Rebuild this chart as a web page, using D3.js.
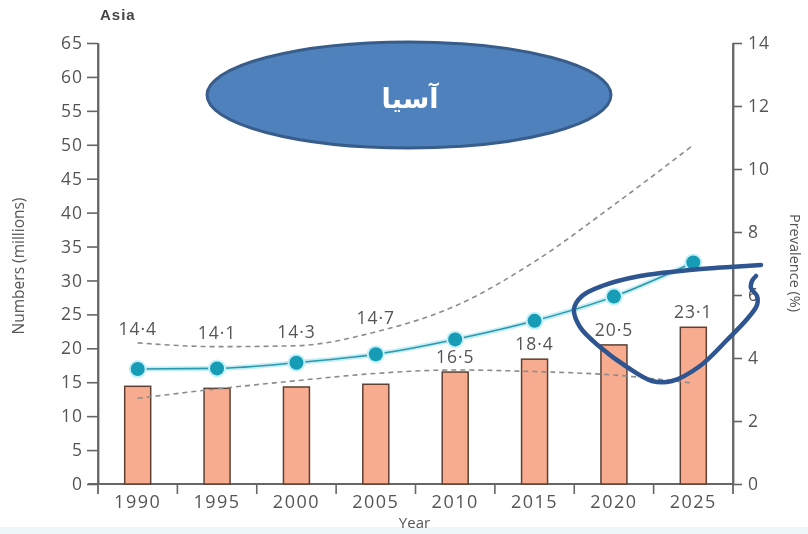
<!DOCTYPE html>
<html>
<head>
<meta charset="utf-8">
<script src="https://cdn.jsdelivr.net/npm/d3@7"></script>
<style>
  body { margin: 0; background: #fff; }
  svg { display: block; }
</style>
</head>
<body>
<svg id="chart" width="808" height="534"></svg>
<script>
// Diabetes in Asia: numbers (millions, bars) and prevalence (%, line with bounds)
const years = [1990, 1995, 2000, 2005, 2010, 2015, 2020, 2025];
const numbers = [14.4, 14.1, 14.3, 14.7, 16.5, 18.4, 20.5, 23.1];
const prevalence = [3.65, 3.67, 3.85, 4.12, 4.59, 5.18, 5.95, 7.03];
const prevalenceUpper = [4.48, 4.36, 4.39, 4.83, 5.65, 7.06, 8.86, 10.76];
const prevalenceLower = [2.72, 3.02, 3.28, 3.51, 3.62, 3.57, 3.46, 3.20];
const numberTicks = d3.range(0, 66, 5);
const prevalenceTicks = [0, 2, 4, 6, 8, 10, 12, 14];

const W = 808, H = 534;
const plot = { left: 98, right: 733, top: 43, bottom: 484 };
const TEXT = "#555";
const AXIS = "#666";
const FONT = "'Open Sans', sans-serif";

const svg = d3.select("#chart");

// soft look of the printed figure
const defs = svg.append("defs");
defs.append("filter").attr("id", "soft")
  .append("feGaussianBlur").attr("stdDeviation", 0.55);

svg.append("rect").attr("width", W).attr("height", H).attr("fill", "#fff");
svg.append("rect").attr("x", 0).attr("y", 527).attr("width", W).attr("height", H - 527)
  .attr("fill", "#eef6fa");

const x = d3.scaleBand().domain(years).range([plot.left, plot.right]).padding(0);
const yL = d3.scaleLinear().domain([0, 65]).range([plot.bottom, plot.top]);
const yR = d3.scaleLinear().domain([0, 14]).range([plot.bottom, plot.top]);
const cx = d => x(d) + x.bandwidth() / 2;
const barW = 26;

const g = svg.append("g").attr("filter", "url(#soft)");

// ---- axes ----
const fmtDot = v => d3.format(".1f")(v).replace(".", "·");

function styleAxis(sel) {
  sel.selectAll("path.domain").attr("stroke", AXIS).attr("stroke-width", 1.8);
  sel.selectAll(".tick line").attr("stroke", AXIS).attr("stroke-width", 1.6);
  sel.selectAll(".tick text").attr("fill", TEXT).attr("font-family", FONT)
    .attr("font-size", 17.5).attr("letter-spacing", 1);
}

const leftAxis = g.append("g").attr("transform", `translate(${plot.left},0)`)
  .call(d3.axisLeft(yL).tickValues(numberTicks).tickSize(11).tickSizeOuter(0).tickPadding(4));
styleAxis(leftAxis);

const rightAxis = g.append("g").attr("transform", `translate(${plot.right},0)`)
  .call(d3.axisRight(yR).tickValues(prevalenceTicks).tickSize(9).tickSizeOuter(0).tickPadding(6));
styleAxis(rightAxis);

// axis lines run a little below the baseline
[plot.left, plot.right].forEach(px => {
  g.append("line").attr("x1", px).attr("x2", px)
    .attr("y1", plot.top).attr("y2", plot.bottom + 10)
    .attr("stroke", AXIS).attr("stroke-width", 1.8);
});

// x axis: baseline, boundary ticks between years, year labels centred
g.append("line").attr("x1", plot.left - 10).attr("x2", plot.right)
  .attr("y1", plot.bottom).attr("y2", plot.bottom)
  .attr("stroke", AXIS).attr("stroke-width", 1.8);

const xAxis = g.append("g").attr("transform", `translate(0,${plot.bottom})`)
  .call(d3.axisBottom(x).tickSize(0).tickPadding(11).tickFormat(d3.format("d")));
xAxis.select("path.domain").remove();
styleAxis(xAxis);
xAxis.selectAll(".tick text").attr("font-size", 18).attr("letter-spacing", 1.5);

g.append("g").selectAll("line").data(years.slice(1)).join("line")
  .attr("x1", d => x(d)).attr("x2", d => x(d))
  .attr("y1", plot.bottom).attr("y2", plot.bottom + 10)
  .attr("stroke", AXIS).attr("stroke-width", 1.6);

// axis titles
g.append("text").attr("x", (plot.left + plot.right) / 2 - 1).attr("y", 528)
  .attr("text-anchor", "middle").attr("fill", TEXT)
  .attr("font-family", FONT).attr("font-size", 15).text("Year");

g.append("text").attr("transform", "translate(24,266) rotate(-90)")
  .attr("text-anchor", "middle").attr("fill", TEXT)
  .attr("font-family", FONT).attr("font-size", 15.5).text("Numbers (millions)");

g.append("text").attr("transform", "translate(790,263) rotate(90)")
  .attr("text-anchor", "middle").attr("fill", TEXT)
  .attr("font-family", FONT).attr("font-size", 14.5).text("Prevalence (%)");

g.append("text").attr("x", 100).attr("y", 20)
  .attr("fill", "#444").attr("font-family", "'Liberation Sans', Arial, sans-serif")
  .attr("font-weight", "bold").attr("font-size", 15).attr("letter-spacing", 1)
  .text("Asia");

// ---- bars (numbers, millions) ----
const rows = years.map((yr, i) => ({
  year: yr, n: numbers[i], p: prevalence[i],
  hi: prevalenceUpper[i], lo: prevalenceLower[i]
}));

g.append("g").selectAll("rect").data(rows).join("rect")
  .attr("x", d => cx(d.year) - barW / 2)
  .attr("y", d => yL(d.n))
  .attr("width", barW)
  .attr("height", d => yL(0) - yL(d.n))
  .attr("fill", "#f7ab8f")
  .attr("stroke", "#5e4033").attr("stroke-width", 1.5);

// ---- prevalence uncertainty bounds ----
const boundLine = key => d3.line().x(d => cx(d.year)).y(d => yR(d[key])).curve(d3.curveMonotoneX);
["hi", "lo"].forEach(k => {
  g.append("path").datum(rows).attr("d", boundLine(k))
    .attr("fill", "none").attr("stroke", "#8c8c8c")
    .attr("stroke-width", 1.6).attr("stroke-dasharray", "5,4");
});

// ---- prevalence line and points ----
const pLine = d3.line().x(d => cx(d.year)).y(d => yR(d.p)).curve(d3.curveMonotoneX);
g.append("path").datum(rows).attr("d", pLine)
  .attr("fill", "none").attr("stroke", "#c4eef7").attr("stroke-width", 5);
g.append("path").datum(rows).attr("d", pLine)
  .attr("fill", "none").attr("stroke", "#2d98a9").attr("stroke-width", 1.6);

g.append("g").selectAll("circle.halo").data(rows).join("circle")
  .attr("cx", d => cx(d.year)).attr("cy", d => yR(d.p)).attr("r", 9)
  .attr("fill", "#c4f0f9");
g.append("g").selectAll("circle.dot").data(rows).join("circle")
  .attr("cx", d => cx(d.year)).attr("cy", d => yR(d.p)).attr("r", 7)
  .attr("fill", "#169db5");

// ---- value labels: above the bar, or above the upper bound when it crowds the bar ----
g.append("g").selectAll("text").data(rows).join("text")
  .attr("x", d => cx(d.year))
  .attr("y", d => {
    const top = yL(d.n), hi = yR(d.hi);
    return (top - hi <= 55) ? hi - 8 : top - 9;
  })
  .attr("text-anchor", "middle").attr("fill", TEXT)
  .attr("font-family", FONT).attr("font-size", 17.5).attr("letter-spacing", 1)
  .text(d => fmtDot(d.n));

// ---- title shape ----
svg.append("ellipse").attr("cx", 409).attr("cy", 95).attr("rx", 202).attr("ry", 53)
  .attr("fill", "#4f81bd").attr("stroke", "#385d8a").attr("stroke-width", 3);
svg.append("text").attr("x", 410).attr("y", 108)
  .attr("text-anchor", "middle").attr("fill", "#fff")
  .attr("font-family", "'DejaVu Sans', sans-serif").attr("font-weight", "bold")
  .attr("font-size", 27).attr("direction", "rtl")
  .text("آسیا");

// ---- freehand highlight around the latest years ----
const loop = [
  [761, 265], [730, 267], [690, 270], [640, 276], [602, 286], [582, 296], [574, 309],
  [580, 327], [600, 347], [627, 367], [652, 381], [672, 381], [700, 366],
  [727, 340], [748, 318], [757, 305], [757, 296], [751, 288], [752, 281], [756, 276]
];
svg.append("path").datum(loop)
  .attr("d", d3.line().curve(d3.curveCatmullRom.alpha(0.5)))
  .attr("fill", "none").attr("stroke", "#2f5590").attr("stroke-width", 4.5)
  .attr("stroke-linecap", "round").attr("stroke-linejoin", "round");
</script>
</body>
</html>
